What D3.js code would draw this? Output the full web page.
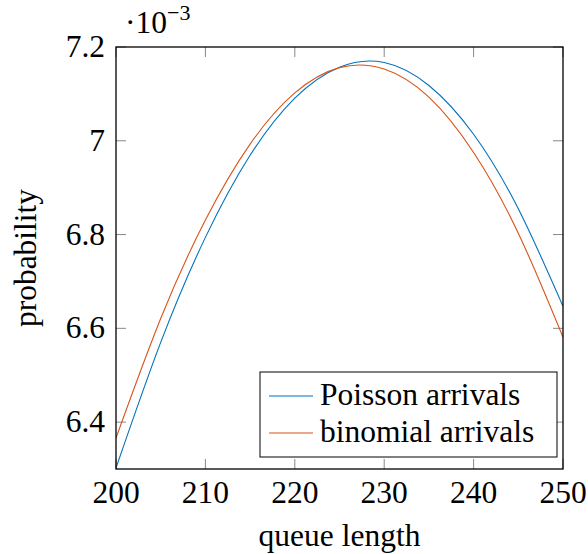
<!DOCTYPE html>
<html lang="en">
<head>
<meta charset="UTF-8">
<title>queue length</title>
<script src="https://d3js.org/d3.v7.min.js"></script>
<style>
    body { margin: 0; padding: 0; background: #fff; }
</style>
</head>
<body>
<div id="chart"></div>
<script>
    // values (probability in units of 1e-3)
    var queueLength = [200, 205, 210, 215, 220, 225, 230, 235, 240, 245, 250];
    var poisson  = [6.302, 6.570, 6.794, 6.969, 7.091, 7.157, 7.167, 7.118, 7.014, 6.855, 6.647];
    var binomial = [6.366, 6.621, 6.831, 6.993, 7.102, 7.156, 7.153, 7.093, 6.975, 6.803, 6.581];
    var xTicks = [200, 210, 220, 230, 240, 250];
    var yTicks = [6.4, 6.6, 6.8, 7, 7.2];
    var seriesNames = ["Poisson arrivals", "binomial arrivals"];
    var colors = ["#0072BD", "#D95319"];

    var W = 588, H = 554;
    var m = { left: 116, right: 25, top: 47, bottom: 85 };
    var serif = "'Liberation Serif', 'Times New Roman', serif";

    var svg = d3.select("#chart").append("svg")
        .attr("width", W)
        .attr("height", H)
        .attr("font-family", serif);

    var x = d3.scaleLinear().domain([200, 250]).range([m.left, W - m.right]);
    var y = d3.scaleLinear().domain([6.3, 7.2]).range([H - m.bottom, m.top]);

    var fs = 31.5, tickLen = 10;

    // clip for the curves
    svg.append("clipPath").attr("id", "plot-clip")
        .append("rect")
        .attr("x", x(200)).attr("y", y(7.2))
        .attr("width", x(250) - x(200)).attr("height", y(6.3) - y(7.2));

    // ticks on all four sides, pointing inward
    var tickG = svg.append("g").attr("stroke", "#888").attr("stroke-width", 1);
    xTicks.forEach(function (t) {
        tickG.append("line").attr("x1", x(t)).attr("x2", x(t))
            .attr("y1", y(6.3)).attr("y2", y(6.3) - tickLen);
        tickG.append("line").attr("x1", x(t)).attr("x2", x(t))
            .attr("y1", y(7.2)).attr("y2", y(7.2) + tickLen);
    });
    yTicks.forEach(function (t) {
        tickG.append("line").attr("x1", x(200)).attr("x2", x(200) + tickLen)
            .attr("y1", y(t)).attr("y2", y(t));
        tickG.append("line").attr("x1", x(250)).attr("x2", x(250) - tickLen)
            .attr("y1", y(t)).attr("y2", y(t));
    });

    // curves
    var line = d3.line()
        .x(function (d, i) { return x(queueLength[i]); })
        .y(function (d) { return y(d); })
        .curve(d3.curveNatural);

    [poisson, binomial].forEach(function (s, i) {
        svg.append("path")
            .attr("clip-path", "url(#plot-clip)")
            .attr("d", line(s))
            .attr("fill", "none")
            .attr("stroke", colors[i])
            .attr("stroke-width", 1.1);
    });

    // frame
    svg.append("rect")
        .attr("x", x(200)).attr("y", y(7.2))
        .attr("width", x(250) - x(200)).attr("height", y(6.3) - y(7.2))
        .attr("fill", "none").attr("stroke", "#000").attr("stroke-width", 1.3);

    // tick labels
    svg.append("g").selectAll("text").data(xTicks).enter().append("text")
        .attr("x", function (d) { return x(d); })
        .attr("y", y(6.3) + 34)
        .attr("text-anchor", "middle")
        .attr("font-size", fs)
        .text(function (d) { return d; });

    svg.append("g").selectAll("text").data(yTicks).enter().append("text")
        .attr("x", x(200) - 11)
        .attr("y", function (d) { return y(d) + 10; })
        .attr("text-anchor", "end")
        .attr("font-size", fs)
        .text(function (d) { return d3.format("~g")(d); });

    // multiplier
    var mult = svg.append("text")
        .attr("x", x(200) + 9)
        .attr("y", 33)
        .attr("font-size", fs);
    mult.append("tspan").text("\u00b710");
    mult.append("tspan").attr("font-size", 22).attr("dy", -13).text("\u22123");

    // axis labels
    svg.append("text")
        .attr("x", (x(200) + x(250)) / 2)
        .attr("y", 546)
        .attr("text-anchor", "middle")
        .attr("font-size", fs)
        .text("queue length");

    svg.append("text")
        .attr("transform", "translate(36," + ((y(6.3) + y(7.2)) / 2) + ") rotate(-90)")
        .attr("text-anchor", "middle")
        .attr("font-size", fs)
        .text("probability");

    // legend
    var lg = svg.append("g");
    lg.append("rect")
        .attr("x", 260).attr("y", 372)
        .attr("width", 297).attr("height", 85)
        .attr("fill", "#fff").attr("stroke", "#000").attr("stroke-width", 1);
    seriesNames.forEach(function (n, i) {
        var yy = 396 + i * 37;
        lg.append("line")
            .attr("x1", 269).attr("x2", 313)
            .attr("y1", yy).attr("y2", yy)
            .attr("stroke", colors[i]).attr("stroke-width", 1.1);
        lg.append("text")
            .attr("x", 320).attr("y", yy + 9)
            .attr("font-size", fs)
            .text(n);
    });
</script>
</body>
</html>
